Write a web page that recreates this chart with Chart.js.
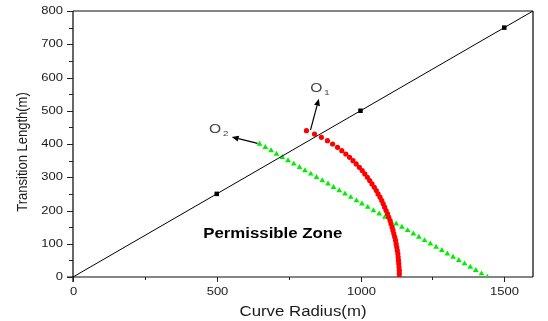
<!DOCTYPE html>
<html>
<head>
<meta charset="utf-8">
<script src="https://cdn.jsdelivr.net/npm/chart.js@4.4.0/dist/chart.umd.min.js"></script>
<style>
  html, body { margin: 0; padding: 0; background: #fff; overflow: hidden; }
  canvas { display: block; }
</style>
</head>
<body>
<canvas id="chart" width="548" height="321"></canvas>
<script>
// Axis ticks
const xMajorTicks = [0, 500, 1000, 1500];
const xMinorTicks = [250, 750, 1250];
const yMajorTicks = [0, 100, 200, 300, 400, 500, 600, 700, 800];
const yMinorTicks = [50, 150, 250, 350, 450, 550, 650, 750];

// Reference line L = R / 2, with markers at 500, 1000, 1500
const refRadius = [0, 500, 1000, 1500, 1600];
const refLength = [0, 250, 500, 750, 800];
const refMarker = [0, 3.2, 3.2, 3.2, 0];

// O1 boundary (red circles)
const o1Length = [440, 430, 420, 410, 400, 390, 380, 370, 360, 350,
                  340, 330, 320, 310, 300, 290, 280, 270, 260, 250,
                  240, 230, 220, 210, 200, 190, 180, 170, 160, 150,
                  140, 130, 120, 110, 100, 90, 80, 70, 60, 50,
                  40, 30, 20, 10, 0];
const o1Radius = [812, 840, 864, 885, 903, 920, 935, 949, 962, 974,
                  985, 996, 1006, 1015, 1024, 1032, 1040, 1048, 1055, 1061,
                  1068, 1074, 1079, 1084, 1089, 1094, 1098, 1103, 1106, 1110,
                  1113, 1116, 1119, 1122, 1124, 1126, 1128, 1130, 1131, 1132,
                  1133, 1134, 1135, 1135, 1135];

// O2 boundary (green triangles)
const o2Length = [400, 390, 380, 370, 360, 350, 340, 330, 320, 310,
                  300, 290, 280, 270, 260, 250, 240, 230, 220, 210,
                  200, 190, 180, 170, 160, 150, 140, 130, 120, 110,
                  100, 90, 80, 70, 60, 50, 40, 30, 20, 10, 0];
const o2Radius = [649, 669, 689, 708, 728, 748, 768, 788, 807, 827,
                  847, 867, 887, 906, 926, 946, 966, 986, 1005, 1025,
                  1045, 1065, 1085, 1104, 1124, 1144, 1164, 1184, 1203, 1223,
                  1243, 1263, 1283, 1302, 1322, 1342, 1362, 1382, 1401, 1421,
                  1441];

// Callout arrows and labels, in data units (radius, length)
const o1Arrow = { from: [826, 442], to: [855, 536] };
const o2Arrow = { from: [642, 402], to: [552, 421] };
const o1Label = { at: [825, 556], main: 'O', sub: '1' };
const o2Label = { at: [473, 433], main: 'O', sub: '2' };
const zoneLabel = { at: [695, 128], text: 'Permissible Zone' };

const pairs = (xs, ys) => xs.map((v, i) => ({ x: v, y: ys[i] }));

const FONT = '"Liberation Sans", Arial, sans-serif';

function stretchedText(ctx, text, x, y, font, align, baseline, sx, color) {
  ctx.save();
  ctx.font = font;
  ctx.fillStyle = color || '#1a1a1a';
  ctx.textAlign = align;
  ctx.textBaseline = baseline;
  ctx.translate(x, y);
  ctx.scale(sx, 1);
  ctx.fillText(text, 0, 0);
  ctx.restore();
}

function seg(ctx, x1, y1, x2, y2) {
  ctx.beginPath();
  ctx.moveTo(x1, y1);
  ctx.lineTo(x2, y2);
  ctx.stroke();
}

function arrow(ctx, x1, y1, x2, y2) {
  const ang = Math.atan2(y2 - y1, x2 - x1);
  const head = 7, half = 3;
  const bx = x2 - head * Math.cos(ang), by = y2 - head * Math.sin(ang);
  ctx.strokeStyle = '#000';
  ctx.lineWidth = 1.2;
  seg(ctx, x1, y1, bx, by);
  ctx.fillStyle = '#000';
  ctx.beginPath();
  ctx.moveTo(x2, y2);
  ctx.lineTo(bx + half * Math.sin(ang), by - half * Math.cos(ang));
  ctx.lineTo(bx - half * Math.sin(ang), by + half * Math.cos(ang));
  ctx.closePath();
  ctx.fill();
}

const axesPlugin = {
  id: 'axesFrame',
  beforeDatasetsDraw(chart) {
    const { ctx, chartArea: a, scales: { x, y } } = chart;
    ctx.save();
    // frame: grey top/bottom, black left/right
    ctx.strokeStyle = '#5c5c5c';
    ctx.lineWidth = 1.6;
    seg(ctx, a.left, a.top, a.right, a.top);
    seg(ctx, a.left - 6, a.bottom, a.right, a.bottom);
    ctx.strokeStyle = '#000';
    ctx.lineWidth = 1.2;
    seg(ctx, a.left, a.top, a.left, a.bottom + 5);
    seg(ctx, a.right, a.top, a.right, a.bottom);

    // y ticks and labels
    ctx.strokeStyle = '#222';
    ctx.lineWidth = 1;
    yMajorTicks.forEach(v => {
      const py = Math.round(y.getPixelForValue(v)) + 0.5;
      seg(ctx, a.left - 6, py, a.left, py);
      stretchedText(ctx, String(v), a.left - 10, py, '10px ' + FONT, 'right', 'middle', 1.3);
    });
    yMinorTicks.forEach(v => {
      const py = Math.round(y.getPixelForValue(v)) + 0.5;
      seg(ctx, a.left - 4, py, a.left, py);
    });
    // x ticks and labels
    xMajorTicks.forEach(v => {
      const px = Math.round(x.getPixelForValue(v)) + 0.5;
      seg(ctx, px, a.bottom, px, a.bottom + 5);
      stretchedText(ctx, String(v), px, a.bottom + 15, '10px ' + FONT, 'center', 'middle', 1.3);
    });
    xMinorTicks.forEach(v => {
      const px = Math.round(x.getPixelForValue(v)) + 0.5;
      seg(ctx, px, a.bottom, px, a.bottom + 3);
    });

    // axis titles
    stretchedText(ctx, 'Curve Radius(m)', (a.left + a.right) / 2, a.bottom + 35,
                  '14px ' + FONT, 'center', 'middle', 1.2);
    ctx.save();
    ctx.translate(23, (a.top + a.bottom) / 2 + 8);
    ctx.rotate(-Math.PI / 2);
    ctx.scale(1, 1.15);
    ctx.font = '13px ' + FONT;
    ctx.fillStyle = '#1a1a1a';
    ctx.textAlign = 'center';
    ctx.textBaseline = 'middle';
    ctx.fillText('Transition Length(m)', 0, 0);
    ctx.restore();
    ctx.restore();
  },
  afterDatasetsDraw(chart) {
    const { ctx, scales: { x, y } } = chart;
    const P = p => [x.getPixelForValue(p[0]), y.getPixelForValue(p[1])];
    ctx.save();
    [o1Arrow, o2Arrow].forEach(ar => {
      const f = P(ar.from), t = P(ar.to);
      arrow(ctx, f[0], f[1], t[0], t[1]);
    });
    [o1Label, o2Label].forEach(lb => {
      const p = P(lb.at);
      stretchedText(ctx, lb.main, p[0], p[1], '13px ' + FONT, 'left', 'alphabetic', 1.2, '#444');
      stretchedText(ctx, lb.sub, p[0] + 14, p[1] + 3, '8px ' + FONT, 'left', 'alphabetic', 1.2, '#444');
    });
    const z = P(zoneLabel.at);
    stretchedText(ctx, zoneLabel.text, z[0], z[1], 'bold 14px ' + FONT, 'center', 'middle', 1.2, '#000');
    ctx.restore();
  }
};

new Chart(document.getElementById('chart'), {
  type: 'scatter',
  data: {
    datasets: [
      {
        label: 'L = R/2',
        data: pairs(refRadius, refLength),
        showLine: true,
        borderColor: '#000',
        borderWidth: 1,
        pointStyle: 'rect',
        pointRadius: refMarker,
        pointBackgroundColor: '#000',
        pointBorderWidth: 0,
        clip: 0
      },
      {
        label: 'O1',
        data: pairs(o1Radius, o1Length),
        showLine: false,
        pointStyle: 'circle',
        pointRadius: 2.6,
        pointBackgroundColor: '#ff0000',
        pointBorderColor: '#ff0000',
        pointBorderWidth: 0,
        clip: 0
      },
      {
        label: 'O2',
        data: pairs(o2Radius, o2Length),
        showLine: false,
        pointStyle: 'triangle',
        pointRadius: 3.3,
        pointBackgroundColor: '#00ee00',
        pointBorderColor: '#00ee00',
        pointBorderWidth: 0,
        clip: 0
      }
    ]
  },
  options: {
    responsive: false,
    animation: false,
    devicePixelRatio: 1,
    layout: { padding: { top: 11, right: 15, left: 0, bottom: 0 } },
    plugins: { legend: { display: false }, tooltip: { enabled: false } },
    scales: {
      x: {
        type: 'linear', min: 0, max: 1600,
        ticks: { display: false }, grid: { display: false }, border: { display: false },
        afterFit(s) { s.height = 44; }
      },
      y: {
        type: 'linear', min: 0, max: 800,
        ticks: { display: false }, grid: { display: false }, border: { display: false },
        afterFit(s) { s.width = 73; }
      }
    }
  },
  plugins: [axesPlugin]
});
</script>
</body>
</html>
